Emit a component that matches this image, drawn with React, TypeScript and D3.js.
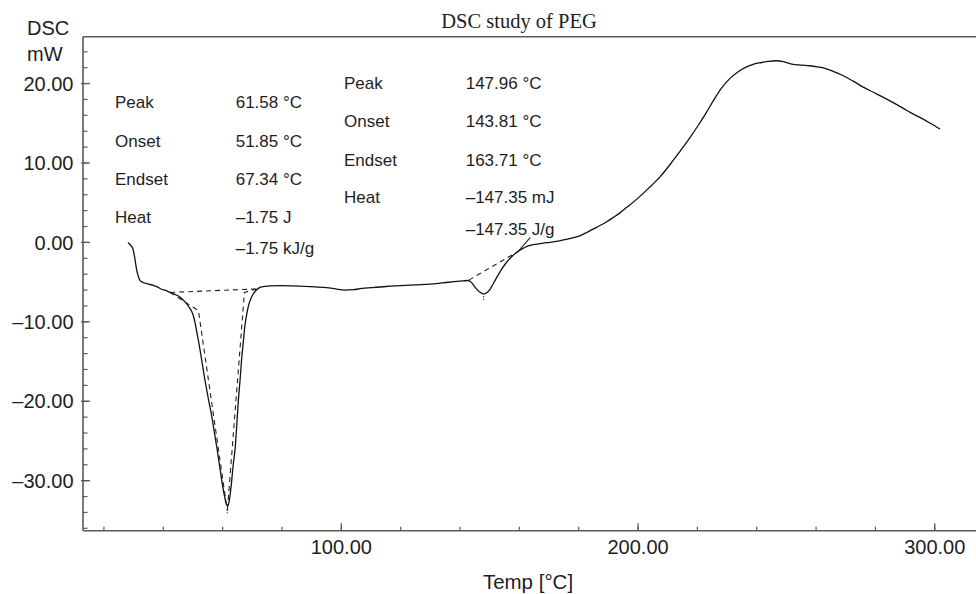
import React from "react";
import * as d3 from "d3";

// ---- data ----
const temps: number[] = [
  28.1, 28.6, 29.8, 30.4, 31.0, 31.6, 32.2, 33.2, 34.4, 35.5, 36.6, 38.0, 39.4, 40.8, 42.3, 44.0,
  45.7, 47.1, 48.4, 49.3, 50.1, 50.7, 51.3, 52.1, 52.9, 53.7, 54.6, 55.4, 56.3, 57.2, 58.2,
  59.2, 60.2, 61.0, 61.6, 62.2, 62.8, 63.6, 64.2, 64.8, 65.3, 65.9, 66.4, 67.0, 67.5, 68.1,
  68.7, 69.5, 70.3, 71.4, 72.6, 74.2, 76.0, 80.0, 86.0, 91.0, 95.0, 98.0, 101.0, 104.0,
  107.0, 110.0, 115.0, 120.0, 125.0, 130.0, 134.0, 138.0, 141.0, 142.8, 144.0, 145.1,
  146.5, 147.9, 149.0, 150.1, 151.2, 152.4, 154.0, 155.7, 157.4, 159.1, 160.8, 163.0,
  165.9, 168.0, 170.3, 173.1, 176.5, 180.4, 183.0, 186.0, 189.0, 191.7, 194.0, 196.0,
  199.6, 203.5, 207.4, 211.0, 214.2, 217.5, 220.3, 223.0, 225.4, 228.0, 231.0, 234.0,
  236.6, 239.0, 241.7, 244.0, 246.7, 249.0, 251.8, 255.0, 257.9, 260.5, 263.0, 266.0,
  269.2, 272.5, 275.9, 279.3, 282.7, 286.0, 289.4, 292.0, 295.0, 298.5, 301.8,
];
const dsc: number[] = [
  0.0, -0.2, -0.85, -2.0, -3.4, -4.3, -4.8, -5.05, -5.2, -5.3, -5.4, -5.6, -5.9, -6.05, -6.3, -6.55,
  -6.9, -7.4, -8.0, -8.5, -9.2, -10.1, -11.3, -12.9, -14.7, -16.6, -18.5, -20.1, -21.8, -23.9, -26.2,
  -28.7, -31.1, -32.6, -33.2, -32.6, -30.9, -27.9, -26.0, -22.8, -19.9, -17.2, -14.7, -12.4, -10.5, -9.1,
  -8.0, -7.1, -6.5, -6.0, -5.67, -5.55, -5.47, -5.45, -5.5, -5.6, -5.7, -5.85, -6.0, -5.95,
  -5.8, -5.7, -5.55, -5.45, -5.35, -5.25, -5.1, -4.95, -4.85, -4.8, -5.1, -5.67,
  -6.2, -6.5, -6.35, -5.9, -5.2, -4.4, -3.4, -2.5, -1.8, -1.26, -0.84, -0.45,
  -0.21, -0.08, 0.0, 0.15, 0.45, 0.83, 1.3, 1.9, 2.5, 3.15, 3.75, 4.35,
  5.45, 6.8, 8.25, 9.9, 11.5, 13.2, 14.75, 16.35, 17.85, 19.35, 20.65, 21.55,
  22.1, 22.45, 22.65, 22.8, 22.87, 22.75, 22.45, 22.32, 22.24, 22.1, 21.92, 21.5,
  20.98, 20.3, 19.55, 18.9, 18.26, 17.6, 16.88, 16.3, 15.74, 15.0, 14.27,
];

// construction lines of the first peak (baseline + tangents)
const peak1BaseT = [42.3, 71.5];
const peak1BaseV = [-6.3, -5.86];
const peak1LeftT = [42.3, 51.85, 61.58];
const peak1LeftV = [-6.3, -8.6, -33.8];
const peak1RightT = [71.5, 67.34, 61.58];
const peak1RightV = [-5.86, -6.3, -33.8];
// construction lines of the second peak
const peak2BaseT = [143.0, 159.6];
const peak2BaseV = [-4.75, -1.13];
const peak2TanT = [159.6, 163.71];
const peak2TanV = [-1.13, 0.63];
const peakMarkT = [61.58, 147.96];
const peakMarkV = [-33.6, -6.75];

const yMajor = [-30, -20, -10, 0, 10, 20];
const yMajorLabels = ["–30.00", "–20.00", "–10.00", "0.00", "10.00", "20.00"];
const xMajor = [100, 200, 300];
const xMajorLabels = ["100.00", "200.00", "300.00"];

const ann1Labels = ["Peak", "Onset", "Endset", "Heat", ""];
const ann1Values = ["61.58 °C", "51.85 °C", "67.34 °C", "–1.75 J", "–1.75 kJ/g"];
const ann2Labels = ["Peak", "Onset", "Endset", "Heat", ""];
const ann2Values = ["147.96 °C", "143.81 °C", "163.71 °C", "–147.35 mJ", "–147.35 J/g"];

const title = "DSC study of PEG";
const xTitle = "Temp [°C]";
const yTitle1 = "DSC";
const yTitle2 = "mW";

export default function App() {
  const W = 976;
  const H = 594;
  const left = 83;
  const right = 976;
  const top = 36.7;
  const bottom = 530.7;

  const x = d3.scaleLinear().domain([12.94, 313.9]).range([left, right]);
  const y = d3.scaleLinear().domain([-36.3, 25.9]).range([bottom, top]);

  const line = d3
    .line<[number, number]>()
    .x((d) => x(d[0]))
    .y((d) => y(d[1]))
    .curve(d3.curveMonotoneX);
  const straight = d3
    .line<[number, number]>()
    .x((d) => x(d[0]))
    .y((d) => y(d[1]));

  const zip = (a: number[], b: number[]) => a.map((v, i) => [v, b[i]] as [number, number]);

  const yMinor = d3.range(-36, 26, 2);
  const xMinor = d3.range(20, 314, 20);

  const axisColor = "#5a5a5a";
  const textColor = "#1e1e1e";
  const sans = "'Liberation Sans', Arial, Helvetica, sans-serif";
  const serif = "'Liberation Serif', 'Times New Roman', serif";

  const ann1Y = [108.3, 146.7, 185, 223.3, 253.5];
  const ann2Y = [89.3, 127.3, 165.7, 203.3, 235];

  return (
    <svg
      width={W}
      height={H}
      style={{ position: "absolute", left: 0, top: 0, background: "#fff" }}
    >
      <rect x={0} y={0} width={W} height={H} fill="#fff" />
      {/* title */}
      <text x={519} y={28.3} textAnchor="middle" fontFamily={serif} fontSize={20.5} fill={textColor}>
        {title}
      </text>
      <text x={27} y={35} fontFamily={sans} fontSize={20} fill={textColor}>
        {yTitle1}
      </text>
      <text x={27} y={61} fontFamily={sans} fontSize={20} fill={textColor}>
        {yTitle2}
      </text>

      {/* frame */}
      <line x1={left} x2={left} y1={top} y2={bottom} stroke={axisColor} strokeWidth={1.6} />
      <line x1={left} x2={right} y1={top} y2={top} stroke={axisColor} strokeWidth={1.6} />
      <line x1={left} x2={right} y1={bottom} y2={bottom} stroke={axisColor} strokeWidth={1.6} />

      {/* y ticks */}
      {yMinor.map((v) => (
        <line key={"ym" + v} x1={left} x2={left + 4.5} y1={y(v)} y2={y(v)} stroke={axisColor} strokeWidth={1.2} />
      ))}
      {yMajor.map((v, i) => (
        <g key={"yM" + v}>
          <line x1={left - 2} x2={left + 7} y1={y(v)} y2={y(v)} stroke={axisColor} strokeWidth={1.3} />
          <text x={73.5} y={y(v)} dy="0.36em" textAnchor="end" fontFamily={sans} fontSize={20} fill={textColor}>
            {yMajorLabels[i]}
          </text>
        </g>
      ))}

      {/* x ticks */}
      {xMinor.map((v) => (
        <line key={"xm" + v} x1={x(v)} x2={x(v)} y1={bottom} y2={bottom - 4} stroke={axisColor} strokeWidth={1.2} />
      ))}
      {xMajor.map((v, i) => (
        <g key={"xM" + v}>
          <line x1={x(v)} x2={x(v)} y1={bottom} y2={bottom - 7.5} stroke={axisColor} strokeWidth={1.3} />
          <text x={x(v)} y={554} textAnchor="middle" fontFamily={sans} fontSize={20} fill={textColor}>
            {xMajorLabels[i]}
          </text>
        </g>
      ))}
      <text x={528} y={589} textAnchor="middle" fontFamily={sans} fontSize={20.5} fill={textColor}>
        {xTitle}
      </text>

      {/* annotations */}
      {ann1Labels.map((t, i) => (
        <g key={"a1" + i}>
          {t && (
            <text x={115} y={ann1Y[i]} fontFamily={sans} fontSize={17} fill={textColor}>
              {t}
            </text>
          )}
          <text x={235.7} y={ann1Y[i]} fontFamily={sans} fontSize={17} fill={textColor}>
            {ann1Values[i]}
          </text>
        </g>
      ))}
      {ann2Labels.map((t, i) => (
        <g key={"a2" + i}>
          {t && (
            <text x={344} y={ann2Y[i]} fontFamily={sans} fontSize={17} fill={textColor}>
              {t}
            </text>
          )}
          <text x={465.7} y={ann2Y[i]} fontFamily={sans} fontSize={17} fill={textColor}>
            {ann2Values[i]}
          </text>
        </g>
      ))}

      {/* construction lines */}
      <g fill="none" stroke="#222" strokeWidth={1.1} strokeDasharray="5,4">
        <path d={straight(zip(peak1BaseT, peak1BaseV)) || ""} />
        <path d={straight(zip(peak1LeftT, peak1LeftV)) || ""} />
        <path d={straight(zip(peak1RightT, peak1RightV)) || ""} />
        <path d={straight(zip(peak2BaseT, peak2BaseV)) || ""} />
      </g>
      <path d={straight(zip(peak2TanT, peak2TanV)) || ""} fill="none" stroke="#222" strokeWidth={1.1} />
      {peakMarkT.map((t, i) => (
        <line
          key={"pm" + i}
          x1={x(t)}
          x2={x(t)}
          y1={y(peakMarkV[i])}
          y2={y(peakMarkV[i]) + 4}
          stroke="#222"
          strokeWidth={1}
          strokeDasharray="1.5,1.5"
        />
      ))}

      {/* DSC curve */}
      <path d={line(zip(temps, dsc)) || ""} fill="none" stroke="#111" strokeWidth={1.3} strokeLinejoin="round" />
    </svg>
  );
}
